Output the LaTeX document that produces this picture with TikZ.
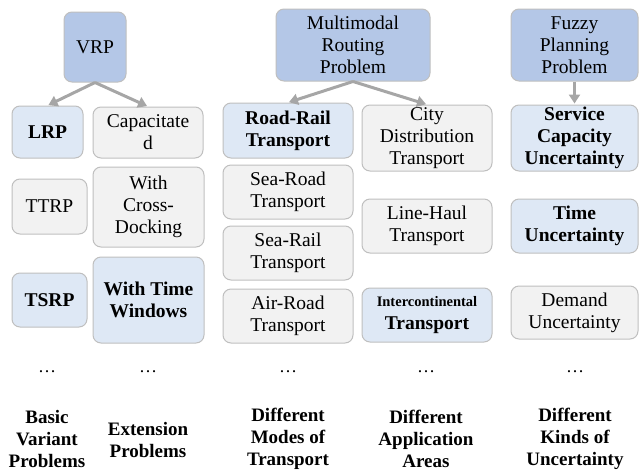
\documentclass[tikz,border=0pt]{standalone}
\usepackage{fontspec}
\setmainfont{Liberation Serif}
\usetikzlibrary{arrows.meta}
\definecolor{dkblue}{HTML}{B4C7E7}
\definecolor{ltblue}{HTML}{DEE8F5}
\definecolor{ltgray}{HTML}{F2F2F2}
\definecolor{bordergray}{HTML}{BFBFBF}
\definecolor{arrowgray}{HTML}{A6A6A6}
\tikzset{
  basebox/.style={draw=bordergray, line width=1pt, rounded corners=8pt, align=center,
    inner sep=0pt, font=\fontsize{19.5}{22}\selectfont, text=black},
  topbox/.style={basebox, fill=dkblue},
  hibox/.style={basebox, fill=ltblue, font=\fontsize{19.5}{22}\selectfont\bfseries},
  plainbox/.style={basebox, fill=ltgray},
  dotsnode/.style={font=\fontsize{18}{21}\selectfont, inner sep=0pt},
  catlabel/.style={font=\fontsize{19}{22}\selectfont\bfseries, align=center, inner sep=0pt},
  conn/.style={draw=arrowgray, line width=3pt, -{Triangle[length=9pt,width=11pt]}, shorten >=1pt}
}
\begin{document}
\begin{tikzpicture}[x=1pt,y=-1pt]
\useasboundingbox (0,0) rectangle (640,472);
% column 1 and 2
\node[topbox, minimum width=62pt, minimum height=70pt] (vrp) at (95,47) {VRP};
\node[hibox, minimum width=71pt, minimum height=52pt] (lrp) at (47.5,132) {LRP};
\node[plainbox, minimum width=110pt, minimum height=51pt] (cap) at (148,132.5) {Capacitate\\d};
\node[plainbox, minimum width=75pt, minimum height=55pt] (ttrp) at (49.5,206.5) {TTRP};
\node[plainbox, minimum width=111pt, minimum height=80pt] (cross) at (148.5,207) {With\\Cross-\\Docking};
\node[hibox, minimum width=75pt, minimum height=54pt] (tsrp) at (49.5,300) {TSRP};
\node[hibox, minimum width=111pt, minimum height=86pt] (tw) at (148.5,300) {With Time\\Windows};
% column 3 and 4
\node[topbox, minimum width=154pt, minimum height=72pt] (mm) at (353,45) {Multimodal\\Routing\\Problem};
\node[hibox, minimum width=130pt, minimum height=55pt] (rr) at (288,130.5) {Road-Rail\\Transport};
\node[plainbox, minimum width=130pt, minimum height=66pt] (city) at (427,138) {City\\Distribution\\Transport};
\node[plainbox, minimum width=130pt, minimum height=54pt] (sroad) at (288,192) {Sea-Road\\Transport};
\node[plainbox, minimum width=130pt, minimum height=54pt] (srail) at (288,253) {Sea-Rail\\Transport};
\node[plainbox, minimum width=130pt, minimum height=54pt] (air) at (288,316) {Air-Road\\Transport};
\node[plainbox, minimum width=130pt, minimum height=54pt] (haul) at (427,226) {Line-Haul\\Transport};
\node[hibox, minimum width=130pt, minimum height=54pt] (inter) at (427,315) {{\fontsize{14.5}{15}\selectfont Intercontinental}\\[1pt]Transport};
% column 5
\node[topbox, minimum width=127pt, minimum height=72pt] (fz) at (574.5,45) {Fuzzy\\Planning\\Problem};
\node[hibox, minimum width=127pt, minimum height=66pt] (svc) at (574.5,138) {Service\\Capacity\\Uncertainty};
\node[hibox, minimum width=127pt, minimum height=54pt] (tu) at (574.5,226) {Time\\Uncertainty};
\node[plainbox, minimum width=127pt, minimum height=53pt] (dem) at (574.5,312.5) {Demand\\Uncertainty};
% connectors
\draw[conn] (vrp.south) -- (lrp.north);
\draw[conn] (vrp.south) -- (cap.north);
\draw[conn] (mm.south) -- (rr.north);
\draw[conn] (mm.south) -- (city.north);
\draw[conn] (fz.south) -- (svc.north);
% dots
\node[dotsnode] (d1) at (47,372) {\dots};
\node[dotsnode] (d2) at (148,372) {\dots};
\node[dotsnode] (d3) at (288,372) {\dots};
\node[dotsnode] (d4) at (426,372) {\dots};
\node[dotsnode] (d5) at (575,372) {\dots};
% category labels
\node[catlabel] (l1) at (47,439) {Basic\\Variant\\Problems};
\node[catlabel] (l2) at (148,440) {Extension\\Problems};
\node[catlabel] (l3) at (288,439) {Different\\Modes of\\Transport};
\node[catlabel] (l4) at (426,439) {Different\\Application\\Areas};
\node[catlabel] (l5) at (575,439) {Different\\Kinds of\\Uncertainty};
\end{tikzpicture}
\end{document}
